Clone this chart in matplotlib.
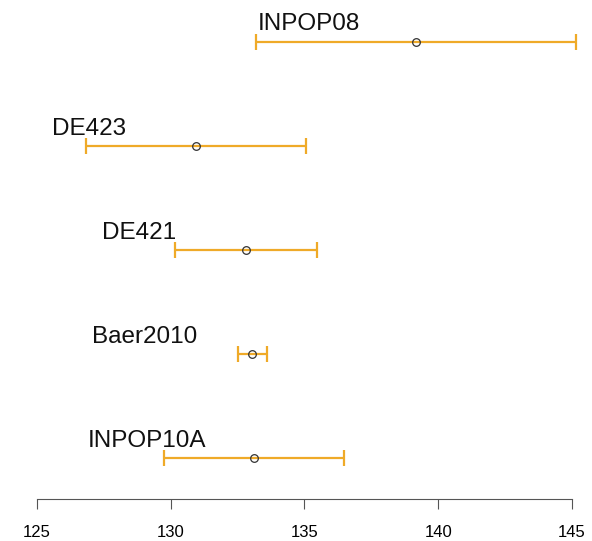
import numpy as np
import matplotlib.pyplot as plt

plt.rcParams['font.family'] = ['Liberation Sans', 'DejaVu Sans']

# ephemeris estimates with lower/upper bounds, bottom to top
names = ['INPOP10A', 'Baer2010', 'DE421', 'DE423', 'INPOP08']
centre = [133.11, 133.04, 132.81, 130.94, 139.17]
lower = [129.75, 132.51, 130.16, 126.83, 133.19]
upper = [136.48, 133.60, 135.47, 135.06, 145.15]
label_x = [126.91, 127.06, 127.43, 125.56, 133.26]

ypos = np.arange(1, len(names) + 1)
centre = np.array(centre)
err = np.vstack([centre - np.array(lower), np.array(upper) - centre])

fig = plt.figure(figsize=(5.92, 5.41), dpi=100)
ax = fig.add_axes([0, 0.0776, 1, 0.9224])

ax.errorbar(centre, ypos, xerr=err, fmt='none', ecolor='#EFAA28',
            elinewidth=1.6, capsize=5.5, capthick=1.6)
ax.plot(centre, ypos, 'o', mfc='none', mec='#333333', ms=5.5, mew=0.9)

for nm, lx, y in zip(names, label_x, ypos):
    ax.text(lx, y + 0.165, nm, ha='left', va='center', fontsize=17.5,
            color='#111111')

ax.set_xlim(123.617, 145.748)
ax.set_ylim(0.606, 5.40)
ax.set_xticks([125, 130, 135, 140, 145])
ax.set_yticks([])
for s in ['top', 'left', 'right']:
    ax.spines[s].set_visible(False)
ax.spines['bottom'].set_bounds(125, 145)
ax.spines['bottom'].set_color('#555555')
ax.tick_params(axis='x', length=7, color='#555555', labelsize=12, pad=12)

fig.savefig('out.png', dpi=100)
